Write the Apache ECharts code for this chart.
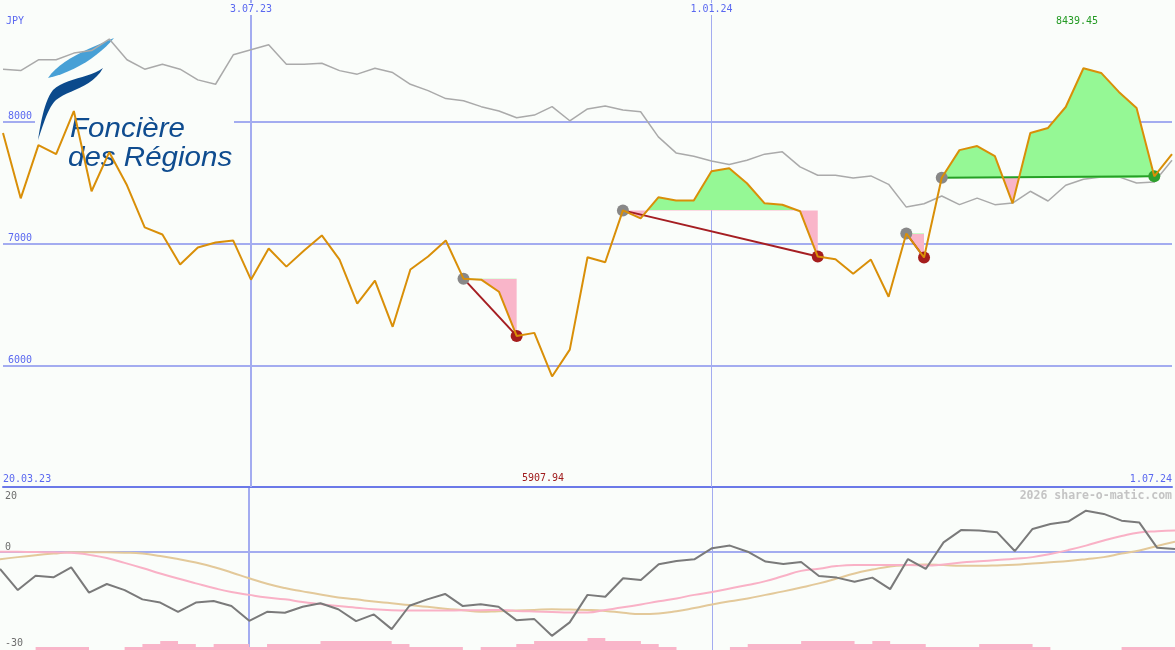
<!DOCTYPE html>
<html><head><meta charset="utf-8">
<script src="https://cdn.jsdelivr.net/npm/echarts@6/dist/echarts.min.js"></script>
<style>html,body{margin:0;padding:0;background:#fafdfa;}#c{width:1175px;height:650px;}</style>
</head><body><div id="c"></div>
<script>
// ---- data (weekly points, index 0..66) ----
const price = [7907,7371,7808,7734,8088,7429,7750,7478,7132,7074,
 6827,6967,7008,7024,6703,6959,6810,6942,7066,6868,
 6506,6695,6316,6786,6893,7025,6711,6703,6604,6241,
 6266,5907.94,6128,6887,6846,7272,7206,7379,7354,7354,
 7594,7618,7495,7330,7318,7265,6893,6871,6752,6868,
 6563,7082,6885,7540,7767,7800,7717,7330,7907,7949,
 8121,8439.45,8401,8245,8113,7552,7734];
const relative = [8432,8420,8509,8509,8564,8585,8679,8509,8432,8473,
 8432,8344,8308,8550,8591,8632,8473,8473,8481,8420,
 8391,8440,8404,8308,8256,8190,8173,8124,8088,8033,
 8055,8124,8008,8105,8129,8096,8082,7876,7744,7717,
 7678,7649,7684,7734,7753,7629,7561,7561,7538,7555,
 7486,7299,7327,7390,7319,7373,7319,7332,7429,7349,
 7478,7528,7547,7547,7497,7505,7684];
const momentum = [-5.3,-11.9,-7.4,-7.9,-4.8,-12.7,-10,-11.9,-14.8,-15.8,
 -18.7,-15.8,-15.3,-16.9,-21.5,-18.7,-19,-17.1,-16,-17.9,
 -21.6,-19.5,-24.1,-16.8,-14.8,-13.1,-16.9,-16.3,-17.1,-21.3,
 -20.9,-26.2,-22,-13.4,-14,-8.2,-8.75,-3.8,-2.8,-2.3,
 1.2,2.0,0.1,-3.0,-3.75,-3.1,-7.5,-8.0,-9.3,-8.0,
 -11.6,-2.2,-5.3,3.0,6.9,6.7,6.2,0.3,7.2,8.75,
 9.5,12.9,11.9,9.8,9.2,1.3,0.9];
const maFast = [0.1,0.05,0,-0.1,-0.2,-0.9,-1.9,-3.4,-5,-6.7,
 -8.3,-9.8,-11.25,-12.5,-13.4,-14.2,-14.8,-15.6,-16.25,-16.9,
 -17.4,-17.9,-18.2,-18.3,-18.3,-18.3,-18.2,-18.2,-18.1,-18.4,
 -18.6,-18.75,-18.9,-18.9,-18.1,-17.3,-16.4,-15.4,-14.5,-13.4,
 -12.5,-11.4,-10.3,-9.1,-7.5,-5.9,-5.2,-4.4,-4.1,-4.1,
 -4.1,-4.1,-4.2,-3.9,-3.3,-2.9,-2.5,-2.1,-1.6,-0.6,
 0.6,2.0,3.6,5.0,6.1,6.5,6.7];
const maSlow = [-2.3,-1.6,-1.0,-0.5,-0.1,-0.1,-0.1,-0.2,-0.5,-1.25,
 -2.2,-3.3,-4.7,-6.4,-8.2,-9.9,-11.25,-12.3,-13.3,-14.2,
 -14.8,-15.5,-16,-16.6,-17.1,-17.7,-18.2,-18.7,-18.5,-18.3,
 -18.1,-17.9,-18,-18.1,-18.4,-19,-19.4,-19.2,-18.5,-17.5,
 -16.4,-15.4,-14.5,-13.4,-12.3,-11.1,-9.8,-8.3,-6.7,-5.5,
 -4.5,-4.1,-3.9,-4.1,-4.3,-4.3,-4.2,-4.0,-3.6,-3.2,
 -2.8,-2.25,-1.6,-0.5,0.5,1.9,3.2];
const volume = [0,0,1,1,1,0,0,1,2,3,
 2,1,2,2,1,2,2,2,3,3,
 3,3,2,1,1,1,0,1,1,2,
 3,3,3,4,3,3,2,1,0,0,
 0,1,2,2,2,3,3,3,2,3,
 2,2,1,1,1,2,2,2,1,0,
 0,0,0,1,1,1,1];
const entryIdx = [26, 35, 51, 53];
const exitIdx = [29, 46, 52, 65];
const priceTicks = [6000, 7000, 8000];
const oscTicksLow = [-30, 0];
const oscTicksHigh = [20];
const dateTickIdx = [14, 40];
const dateTickLabels = ['3.07.23', '1.01.24'];
const rangeLabels = ['20.03.23', '1.07.24'];
const currency = 'JPY';
const watermark = '2026 share-o-matic.com';
const logoLines = ['Foncière', 'des Régions'];

// ---- styles ----
const bg = '#fafdfa';
const mono = "'DejaVu Sans Mono', monospace";
const blue = '#5a68f0';
const gridBlue = '#a3acf0';
const X_MAX = price.length - 1;
const pts = arr => arr.map((v, i) => [i, v]);
const ZL = 1; // series layer above logo

function bez(start, segs) {
  const out = [start];
  let p0 = start;
  segs.forEach(s => {
    const [c1, c2, p3] = s;
    for (let t = 1; t <= 12; t++) {
      const u = t / 12, m = 1 - u;
      out.push([
        m*m*m*p0[0] + 3*m*m*u*c1[0] + 3*m*u*u*c2[0] + u*u*u*p3[0],
        m*m*m*p0[1] + 3*m*m*u*c1[1] + 3*m*u*u*c2[1] + u*u*u*p3[1]
      ]);
    }
    p0 = p3;
  });
  return out;
}
const leafLight = bez([48,78], [[[60,60],[90,48],[114,38]], [[100,55],[75,72],[48,78]]]);
const leafDark = bez([103,68], [[[90,78],[65,78],[53,90]], [[45,100],[41,120],[38,140]], [[44,122],[48,108],[56,100]], [[68,90],[92,88],[103,68]]]);

const series = [];
const visualMaps = [];

series.push({type:'line', zlevel:ZL, xAxisIndex:2, yAxisIndex:3, data:pts(volume), step:'end', symbol:'none',
  lineStyle:{opacity:0}, areaStyle:{color:'#f9b5c9', opacity:1, origin:'start'}, z:1, silent:true,
  markLine:{silent:true, symbol:'none', label:{show:false}, animation:false, data:[
    {xAxis:dateTickIdx[0], lineStyle:{color:gridBlue, width:2, type:'solid'}},
    {xAxis:dateTickIdx[1], lineStyle:{color:gridBlue, width:1, type:'solid'}}]}});
series.push({type:'line', zlevel:ZL, xAxisIndex:2, yAxisIndex:1, data:pts(maSlow), smooth:true, symbol:'none',
  lineStyle:{color:'#e3c99a', width:2}, z:3, silent:true,
  markLine:{silent:true, symbol:'none', label:{show:false}, animation:false,
    data:[{yAxis:0, lineStyle:{color:gridBlue, width:2, type:'solid'}}]}});
series.push({type:'line', zlevel:ZL, xAxisIndex:2, yAxisIndex:1, data:pts(maFast), smooth:true, symbol:'none',
  lineStyle:{color:'#f9b1c6', width:2}, z:3, silent:true});
series.push({type:'line', zlevel:ZL, xAxisIndex:2, yAxisIndex:1, data:pts(momentum), symbol:'none',
  lineStyle:{color:'#7a7a7a', width:2}, z:4, silent:true});

series.push({type:'line', zlevel:ZL, xAxisIndex:0, yAxisIndex:0, data:pts(relative), symbol:'none',
  lineStyle:{color:'#aaaaaa', width:1.5}, z:3, silent:true,
  markLine:{silent:true, symbol:'none', label:{show:false}, animation:false, data:[
    {xAxis:dateTickIdx[0], lineStyle:{color:gridBlue, width:2, type:'solid'}},
    {xAxis:dateTickIdx[1], lineStyle:{color:gridBlue, width:1, type:'solid'}}]}});

const dots = [];
entryIdx.forEach((e, k) => {
  const x = exitIdx[k];
  const ref = price[e];
  const seg = [];
  for (let i = e; i <= x; i++) seg.push([i, price[i]]);
  visualMaps.push({type:'piecewise', show:false, seriesIndex:series.length, dimension:1,
    pieces:[{gt:ref, lte:100000, color:'#95f895'}, {gte:0, lte:ref, color:'#f9b5c9'}]});
  series.push({type:'line', zlevel:ZL, xAxisIndex:0, yAxisIndex:0, data:seg, symbol:'none', showSymbol:false,
    lineStyle:{opacity:0, width:0}, areaStyle:{origin:ref, opacity:1}, z:4, silent:true});
  const win = price[x] > ref;
  series.push({type:'line', zlevel:ZL, xAxisIndex:0, yAxisIndex:0, data:[[e, ref], [x, price[x]]], symbol:'none',
    lineStyle:{color: win ? '#25a025' : '#a51e22', width: 2}, z:5, silent:true});
  dots.push({value:[e, ref], itemStyle:{color:'#888888', opacity:1}});
  dots.push({value:[x, price[x]], itemStyle:{color: win ? '#2ea02e' : '#a51d1d', opacity:1}});
});
series.push({type:'scatter', zlevel:ZL, xAxisIndex:0, yAxisIndex:0, data:dots, symbolSize:12,
  itemStyle:{opacity:1}, z:6, silent:true});

series.push({type:'line', zlevel:ZL, xAxisIndex:0, yAxisIndex:0, data:pts(price), symbol:'none',
  lineStyle:{color:'#d98f08', width:2}, z:8, silent:true});

const minV = Math.min(...price), maxV = Math.max(...price);
const plain = v => String(v);

const option = {
  backgroundColor: bg,
  animation: false,
  grid: [
    {left:0, right:0, top:0, height:487},
    {left:0, right:0, top:488, height:162}
  ],
  xAxis: [
    {gridIndex:0, type:'value', min:0, max:X_MAX, position:'bottom',
     axisLine:{show:true, onZero:false, lineStyle:{color:'#6b79e8', width:2}}, axisTick:{show:false}, splitLine:{show:false},
     axisLabel:{inside:true, customValues:[0, X_MAX], formatter:v => v === 0 ? rangeLabels[0] : rangeLabels[1],
       alignMinLabel:'left', alignMaxLabel:'right', margin:3, color:blue, fontSize:10, fontFamily:mono}},
    {gridIndex:0, type:'value', min:0, max:X_MAX, position:'top', zlevel:ZL, z:10,
     axisLine:{show:false}, axisTick:{show:false}, splitLine:{show:false},
     axisLabel:{inside:true, customValues:dateTickIdx, formatter:v => dateTickLabels[dateTickIdx.indexOf(v)],
       margin:3, color:blue, fontSize:10, fontFamily:mono, backgroundColor:bg, padding:[1,2]}},
    {gridIndex:1, type:'value', min:0, max:X_MAX, show:false}
  ],
  yAxis: [
    {gridIndex:0, type:'value', min:5000, max:9000, interval:1000, position:'left',
     axisLine:{show:false}, axisTick:{show:false},
     splitLine:{show:true, showMinLine:false, showMaxLine:false, lineStyle:{color:gridBlue, width:2}},
     axisLabel:{inside:true, customValues:priceTicks, formatter:plain, verticalAlign:'bottom', margin:5, color:blue, fontSize:10, fontFamily:mono}},
    {gridIndex:1, type:'value', min:-30.625, max:20, position:'left',
     axisLine:{show:false}, axisTick:{show:false}, splitLine:{show:false},
     axisLabel:{inside:true, customValues:oscTicksLow, formatter:plain, verticalAlign:'bottom', margin:5, color:'#6e6e6e', fontSize:10, fontFamily:mono}},
    {gridIndex:1, type:'value', min:-30.625, max:20, position:'left', offset:0,
     axisLine:{show:false}, axisTick:{show:false}, splitLine:{show:false},
     axisLabel:{inside:true, customValues:oscTicksHigh, formatter:plain, verticalAlign:'top', padding:[3,0,0,0], margin:5, color:'#6e6e6e', fontSize:10, fontFamily:mono}},
    {gridIndex:1, type:'value', min:0, max:54, show:false}
  ],
  visualMap: visualMaps,
  graphic: [
    {type:'rect', z:1, silent:true, shape:{x:35, y:32, width:199, height:150}, style:{fill:bg}},
    {type:'polygon', z:2, silent:true, shape:{points:leafLight}, style:{fill:'#47a0d6'}},
    {type:'polygon', z:2, silent:true, shape:{points:leafDark}, style:{fill:'#0b4a8c'}},
    {type:'text', z:2, silent:true, x:70, y:129, scaleX:1.055, style:{text:logoLines[0], font:'italic 28px "Liberation Sans", Arial, sans-serif', fill:'#0f4c8f', textVerticalAlign:'middle'}},
    {type:'text', z:2, silent:true, x:68, y:158, scaleX:1.055, style:{text:logoLines[1], font:'italic 28px "Liberation Sans", Arial, sans-serif', fill:'#0f4c8f', textVerticalAlign:'middle'}},
    {type:'text', z:10, silent:true, x:6, y:21, style:{text:currency, font:'10px ' + mono, fill:blue, textVerticalAlign:'middle'}},
    {type:'text', z:10, silent:true, x:1077, y:21, style:{text:maxV.toFixed(2), font:'10px ' + mono, fill:'#239a23', textAlign:'center', textVerticalAlign:'middle'}},
    {type:'text', z:10, silent:true, x:543, y:478, style:{text:minV.toFixed(2), font:'10px ' + mono, fill:'#a01c1c', textAlign:'center', textVerticalAlign:'middle'}},
    {type:'text', z:10, silent:true, x:1172, y:496, style:{text:watermark, font:'bold 11.5px ' + mono, fill:'#c4c4c4', textAlign:'right', textVerticalAlign:'middle'}}
  ],
  series: series
};

const chart = echarts.init(document.getElementById('c'), null, {renderer:'canvas'});
chart.setOption(option);
</script>
</body></html>
